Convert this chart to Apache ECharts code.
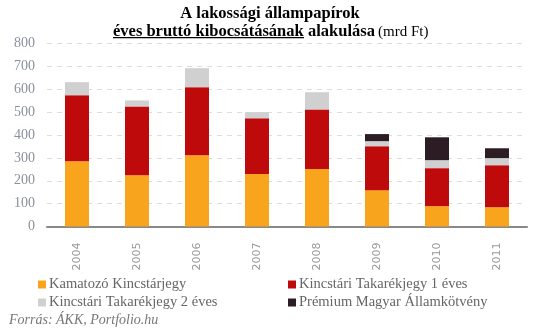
<!DOCTYPE html>
<html><head><meta charset="utf-8">
<script src="https://cdn.jsdelivr.net/npm/echarts@6/dist/echarts.min.js"></script>
<style>html,body{margin:0;padding:0;background:#fff}#c{width:535px;height:335px}</style>
</head><body><div id="c"></div>
<script>
var years = ['2004','2005','2006','2007','2008','2009','2010','2011'];
var kamatozo = [285,224,312,229,251,159,89,84];
var takarek1 = [289,301,297,244,261,192,166,184];
var takarek2 = [57,26,83,27,75,22,35,31];
var premium = [0,0,0,0,0,31,100,43];
var names = ['Kamatozó Kincstárjegy','Kincstári Takarékjegy 1 éves','Kincstári Takarékjegy 2 éves','Prémium Magyar Államkötvény'];
var colors = ['#F8A51D','#BE0A0A','#D0D0D0','#2B1D23'];
var serif = 'Liberation Serif';
var chart = echarts.init(document.getElementById('c'));
function s(i, data){return {name:names[i], type:'bar', stack:'a', data:data, barWidth:24, itemStyle:{color:colors[i]}};}
chart.setOption({
  animation:false,
  graphic:[
    {type:'text', x:270, y:14, style:{text:'A lakossági állampapírok', font:'bold 16.5px "Liberation Serif"', fill:'#000', align:'center', verticalAlign:'middle'}},
    {type:'text', x:113, y:32, style:{text:'éves bruttó kibocsátásának', font:'bold 16.5px "Liberation Serif"', fill:'#000', align:'left', verticalAlign:'middle'}},
    {type:'text', x:308, y:32, style:{text:'alakulása', font:'bold 16.5px "Liberation Serif"', fill:'#000', align:'left', verticalAlign:'middle'}},
    {type:'text', x:378, y:32, style:{text:'(mrd Ft)', font:'15px "Liberation Serif"', fill:'#000', align:'left', verticalAlign:'middle'}},
    {type:'rect', shape:{x:113, y:37, width:191, height:1.2}, style:{fill:'#000'}},
    {type:'text', left:9, top:313, style:{text:'Forrás: ÁKK, Portfolio.hu', font:'italic 14px "Liberation Serif"', fill:'#777'}}
  ],
  grid:{left:47, right:8, top:43.5, bottom:108.5},
  legend:[
    {data:[names[0],names[2]], orient:'vertical', left:38, top:277, padding:0, itemWidth:8, itemHeight:8, itemGap:3, icon:'rect',
     textStyle:{fontFamily:serif, fontSize:14.5, color:'#666', padding:[0,0,0,-2]}},
    {data:[names[1],names[3]], orient:'vertical', left:288, top:277, padding:0, itemWidth:8, itemHeight:8, itemGap:3, icon:'rect',
     textStyle:{fontFamily:serif, fontSize:14.5, color:'#666', padding:[0,0,0,-2]}}
  ],
  xAxis:{type:'category', data:years,
    axisLine:{lineStyle:{color:'#888',width:2}}, axisTick:{show:false},
    axisLabel:{rotate:90, color:'#999', fontFamily:'DejaVu Sans', fontSize:11, margin:16}},
  yAxis:{type:'value', min:0, max:800, interval:100,
    axisLine:{show:false}, axisTick:{show:false},
    splitLine:{lineStyle:{color:'#ddd', type:[5,5], width:1}},
    axisLabel:{color:'#8a909c', fontFamily:serif, fontSize:14, margin:12}},
  series:[s(0,kamatozo), s(1,takarek1), s(2,takarek2), s(3,premium)]
});
</script></body></html>
